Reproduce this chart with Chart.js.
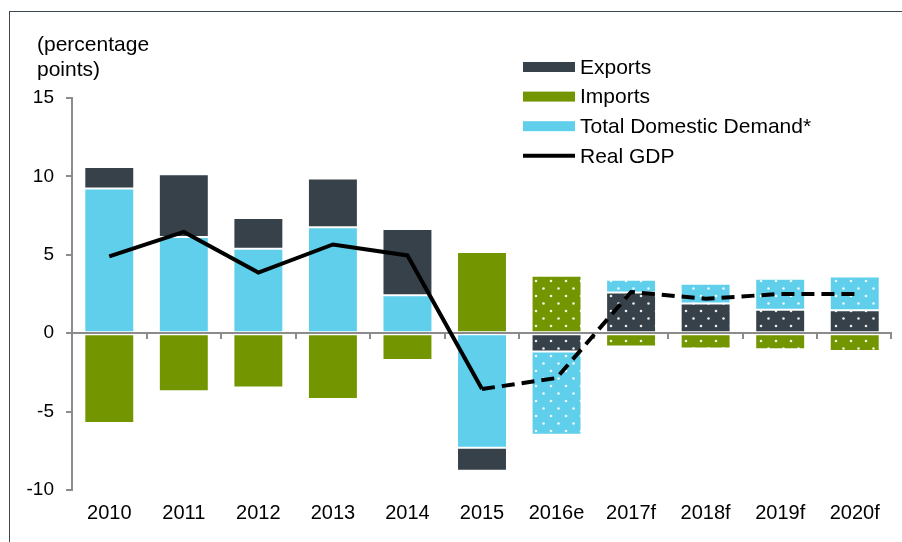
<!DOCTYPE html>
<html>
<head>
<meta charset="utf-8">
<script src="https://cdn.jsdelivr.net/npm/chart.js@4.4.1/dist/chart.umd.min.js"></script>
<style>
    html, body { margin: 0; padding: 0; background: #fff; }
    #wrap { position: relative; width: 902px; height: 542px; overflow: hidden; }
    #frame { position: absolute; left: 9px; top: 11px; right: -2px; bottom: -2px;
             border-top: 1px solid #3d4750; border-left: 1px solid #3d4750; }
    canvas { position: absolute; left: 0; top: 0; }
</style>
</head>
<body>
<div id="wrap">
    <div id="frame"></div>
    <canvas id="chart" width="902" height="542"></canvas>
</div>
<script>
const years = ['2010', '2011', '2012', '2013', '2014', '2015', '2016e', '2017f', '2018f', '2019f', '2020f'];
const exportsData = [1.37, 4.0, 1.97, 3.1, 4.23, -1.47, -1.16, 2.6, 1.9, 1.5, 1.46];
const importsData = [-5.73, -3.71, -3.46, -4.2, -1.71, 5.18, 3.67, -0.85, -0.97, -1.03, -1.14];
const domesticData = [9.23, 6.14, 5.38, 6.76, 2.42, -7.3, -5.31, 0.81, 1.26, 1.98, 2.16];
const gdpData = [4.9, 6.46, 3.87, 5.66, 4.96, -3.56, -2.86, 2.63, 2.2, 2.5, 2.5];
const yTicks = [-10, -5, 0, 5, 10, 15];
const firstForecast = 6;   // 2016e onwards is dotted / dashed

const colors = {
    exports: '#36414a',
    imports: '#739600',
    domestic: '#5fcfeb',
    gdp: '#000000'
};
const FONT = "'Liberation Sans', Arial, sans-serif";

// dotted fill for the forecast bars
function dotPattern(color) {
    const c = document.createElement('canvas');
    c.width = 15;
    c.height = 15;
    const g = c.getContext('2d');
    g.fillStyle = color;
    g.fillRect(0, 0, 15, 15);
    g.fillStyle = 'rgba(255,255,255,0.9)';
    [[3.5, 3.5], [11, 11]].forEach(([x, y]) => {
        g.beginPath();
        g.arc(x, y, 1.3, 0, Math.PI * 2);
        g.fill();
    });
    return g.createPattern(c, 'repeat');
}

function barFill(color) {
    const pat = dotPattern(color);
    return ctx => ctx.dataIndex >= firstForecast ? pat : color;
}

// historic years stack domestic demand first, forecasts stack exports first
const exportsForecast = exportsData.map((v, i) => i >= firstForecast ? v : null);
const exportsHistoric = exportsData.map((v, i) => i < firstForecast ? v : null);

const barStyle = {
    type: 'bar',
    stack: 'contrib',
    borderWidth: 1,
    borderColor: 'rgba(255,255,255,0.4)',
    borderSkipped: false,
    barPercentage: 0.67,
    categoryPercentage: 1
};

// legend + y title drawn at fixed spots, overlapping the plot like the original
const legendItems = [
    { label: 'Exports', color: colors.exports, kind: 'box' },
    { label: 'Imports', color: colors.imports, kind: 'box' },
    { label: 'Total Domestic Demand*', color: colors.domestic, kind: 'box' },
    { label: 'Real GDP', color: colors.gdp, kind: 'line' }
];

const extrasPlugin = {
    id: 'extras',
    afterDatasetDraw(chart, args) {
        // zero line + small category ticks sit on top of the bars, under the GDP line
        if (args.index !== 0) return;
        const { ctx, scales: { x, y } } = chart;
        const y0 = Math.round(y.getPixelForValue(0));
        ctx.save();
        ctx.strokeStyle = '#8c8c8c';
        ctx.lineWidth = 2;
        ctx.beginPath();
        ctx.moveTo(x.left - 6, y0);
        ctx.lineTo(x.right, y0);
        ctx.stroke();
        for (let i = 1; i <= years.length; i++) {
            const bx = i === years.length ? x.right - 1
                : Math.round((x.getPixelForValue(i - 1) + x.getPixelForValue(i)) / 2);
            ctx.beginPath();
            ctx.moveTo(bx, y0);
            ctx.lineTo(bx, y0 + 6);
            ctx.stroke();
        }
        ctx.restore();
    },
    afterDraw(chart) {
        const ctx = chart.ctx;
        ctx.save();
        ctx.font = '21px ' + FONT;
        ctx.fillStyle = '#000';
        ctx.textBaseline = 'middle';
        ctx.textAlign = 'left';
        ctx.fillText('(percentage', 37, 45);
        ctx.fillText('points)', 37, 70);

        legendItems.forEach((item, i) => {
            const cy = 67 + i * 29.6;
            if (item.kind === 'box') {
                ctx.fillStyle = item.color;
                ctx.fillRect(523, cy - 5, 52, 10);
            } else {
                ctx.strokeStyle = item.color;
                ctx.lineWidth = 4;
                ctx.beginPath();
                ctx.moveTo(523, cy);
                ctx.lineTo(575, cy);
                ctx.stroke();
            }
            ctx.fillStyle = '#000';
            ctx.fillText(item.label, 580, cy + 1);
        });
        ctx.restore();
    }
};

new Chart(document.getElementById('chart'), {
    data: {
        labels: years,
        datasets: [
            { ...barStyle, label: 'Exports', data: exportsForecast, backgroundColor: barFill(colors.exports) },
            { ...barStyle, label: 'Total Domestic Demand*', data: domesticData, backgroundColor: barFill(colors.domestic) },
            { ...barStyle, label: 'Exports', data: exportsHistoric, backgroundColor: barFill(colors.exports) },
            { ...barStyle, label: 'Imports', data: importsData, backgroundColor: barFill(colors.imports) },
            {
                type: 'line',
                label: 'Real GDP',
                stack: 'gdp',
                order: -1,
                data: gdpData,
                borderColor: colors.gdp,
                borderWidth: 4,
                pointRadius: 0,
                tension: 0,
                segment: {
                    borderDash: ctx => ctx.p0DataIndex >= firstForecast - 1 ? [13, 7] : undefined
                }
            }
        ]
    },
    options: {
        responsive: false,
        animation: false,
        layout: { padding: { left: 0, top: 98, right: 10, bottom: 15 } },
        plugins: {
            legend: { display: false },
            tooltip: { enabled: false }
        },
        scales: {
            x: {
                stacked: true,
                grid: { display: false, drawTicks: false },
                border: { display: false },
                ticks: { color: '#000', font: { family: FONT, size: 20 }, padding: 11, maxRotation: 0 },
                afterFit: s => { s.height = 37; }
            },
            y: {
                stacked: true,
                min: yTicks[0],
                max: yTicks[yTicks.length - 1],
                afterBuildTicks: s => { s.ticks = yTicks.map(v => ({ value: v })); },
                afterFit: s => { s.width = 72; },
                border: { display: true, color: '#8c8c8c', width: 2 },
                grid: {
                    color: 'rgba(0,0,0,0)',
                    lineWidth: 2,
                    tickColor: '#8c8c8c',
                    tickLength: 6,
                    drawTicks: true
                },
                ticks: { color: '#000', font: { family: FONT, size: 19 }, padding: 12 }
            }
        }
    },
    plugins: [extrasPlugin]
});
</script>
</body>
</html>
